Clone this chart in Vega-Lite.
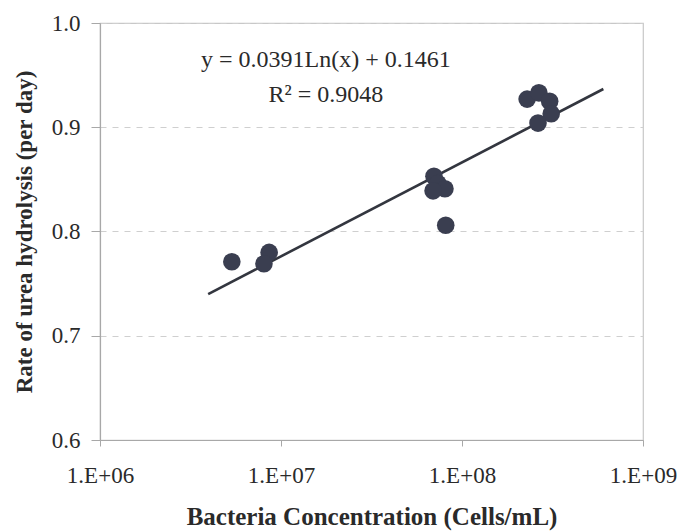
{
  "$schema": "https://vega.github.io/schema/vega-lite/v6.json",
  "autosize": "none",
  "width": 543,
  "height": 417,
  "padding": {"left": 100, "top": 23, "right": 38, "bottom": 91},
  "background": "white",
  "config": {
    "font": "Liberation Serif",
    "view": {"stroke": "#c8c8c8", "strokeWidth": 1.2}
  },
  "datasets": {
    "points": [
      {"cells": 5.35e6, "rate": 0.771},
      {"cells": 8.6e6, "rate": 0.780},
      {"cells": 8.05e6, "rate": 0.769},
      {"cells": 7.0e7, "rate": 0.853},
      {"cells": 7.36e7, "rate": 0.846},
      {"cells": 8.05e7, "rate": 0.841},
      {"cells": 6.92e7, "rate": 0.839},
      {"cells": 8.13e7, "rate": 0.806},
      {"cells": 2.29e8, "rate": 0.927},
      {"cells": 2.66e8, "rate": 0.933},
      {"cells": 3.05e8, "rate": 0.925},
      {"cells": 3.11e8, "rate": 0.913},
      {"cells": 2.63e8, "rate": 0.904}
    ],
    "trend": [
      {"cells": 3.96e6, "rate": 0.7399},
      {"cells": 6.04e8, "rate": 0.9367}
    ],
    "notes": [
      {"cells": 1.77e7, "rate": 0.9642, "label": "y = 0.0391Ln(x) + 0.1461"},
      {"cells": 1.77e7, "rate": 0.9307, "label": "R² = 0.9048"}
    ]
  },
  "encoding": {
    "x": {
      "field": "cells",
      "type": "quantitative",
      "scale": {"type": "log", "domain": [1000000, 1000000000], "nice": false},
      "axis": {
        "title": "Bacteria Concentration (Cells/mL)",
        "values": [1000000, 10000000, 100000000, 1000000000],
        "labelExpr": "'1.E+' + format(round(log(datum.value)/LN10), '02d')",
        "grid": false,
        "domainColor": "#a8a8a8",
        "domainWidth": 1.2,
        "tickColor": "#a8a8a8",
        "tickSize": 6,
        "labelFont": "Liberation Serif",
        "labelFontSize": 23,
        "labelColor": "#2a2a2a",
        "labelPadding": 18,
        "labelFlush": false,
        "titleFont": "Liberation Serif",
        "titleFontSize": 25,
        "titleFontWeight": "bold",
        "titleColor": "#2a2a2a",
        "titlePadding": 17
      }
    },
    "y": {
      "field": "rate",
      "type": "quantitative",
      "scale": {"domain": [0.6, 1.0], "nice": false, "zero": false},
      "axis": {
        "title": "Rate of urea hydrolysis (per day)",
        "values": [0.6, 0.7, 0.8, 0.9, 1.0],
        "format": ".1f",
        "grid": true,
        "gridColor": "#cfcfcf",
        "gridDash": [6, 6],
        "gridWidth": 1.2,
        "domainColor": "#a8a8a8",
        "domainWidth": 1.2,
        "tickColor": "#a8a8a8",
        "tickSize": 9,
        "labelFont": "Liberation Serif",
        "labelFontSize": 23,
        "labelColor": "#2a2a2a",
        "labelPadding": 11,
        "labelFlush": false,
        "titleFont": "Liberation Serif",
        "titleFontSize": 23,
        "titleFontWeight": "bold",
        "titleColor": "#2a2a2a",
        "titlePadding": 15
      }
    }
  },
  "layer": [
    {
      "data": {"name": "trend"},
      "mark": {"type": "line", "color": "#33363f", "strokeWidth": 2.6},
      "encoding": {}
    },
    {
      "data": {"name": "points"},
      "mark": {"type": "circle", "size": 310, "color": "#3a3e50", "opacity": 1},
      "encoding": {}
    },
    {
      "data": {"name": "notes"},
      "mark": {"type": "text", "font": "Liberation Serif", "fontSize": 24, "color": "#2a2a2a", "align": "center", "baseline": "middle"},
      "encoding": {"text": {"field": "label"}}
    }
  ]
}
